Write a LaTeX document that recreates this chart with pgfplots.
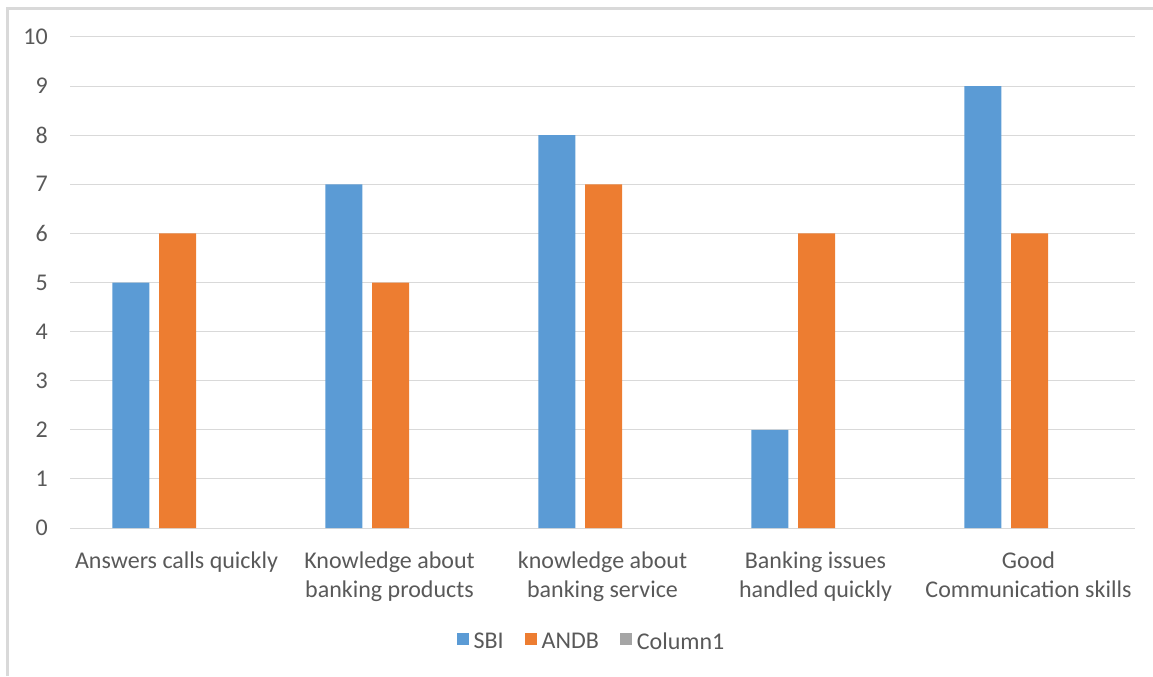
\documentclass[border=0pt]{standalone}
\usepackage{fontspec}
\setmainfont{Carlito}
\usepackage{pgfplots}
\pgfplotsset{compat=1.18}
\definecolor{sbi}{HTML}{5B9BD5}
\definecolor{andb}{HTML}{ED7D31}
\definecolor{col1}{HTML}{A5A5A5}
\definecolor{txt}{HTML}{595959}
\definecolor{gridc}{HTML}{D9D9D9}
\pgfplotsset{sqleg/.style={legend image code/.code={\fill[##1] (0pt,-2.25pt) rectangle (9pt,6.75pt);}}}
\begin{document}
\begin{tikzpicture}
\useasboundingbox (0,0) rectangle (864.75pt,507pt);
\begin{axis}[
  at={(52.5pt,111pt)}, anchor=south west,
  scale only axis, width=798.75pt, height=368.25pt,
  xmin=-0.5, xmax=4.5, ymin=0, ymax=10,
  ytick={0,1,...,10}, xtick={0,1,2,3,4},
  xticklabels={{Answers calls quickly},{Knowledge about\\banking products},{knowledge about\\banking service},{Banking issues\\handled quickly},{Good\\Communication skills}},
  axis line style={draw=none},
  ymajorgrids, grid style={draw=gridc, line width=0.75pt},
  major tick length=0pt,
  tick label style={font=\fontsize{18}{22}\selectfont, text=txt},
  yticklabel style={anchor=east, inner sep=0pt, xshift=-16.5pt},
  xticklabel style={anchor=north, inner sep=0pt, yshift=-17.75pt, align=center},
  /pgf/number format/assume math mode=true,
  ybar, bar width=27.75pt,
  legend style={at={(0.4887,-0.2322)}, anchor=center, draw=none, fill=none,
    legend columns=-1, font=\fontsize{18}{22}\selectfont, text=txt,
    nodes={inner sep=0pt},
    /tikz/every odd column/.append style={column sep=3.75pt},
    /tikz/every even column/.append style={column sep=15.75pt}},
]
\addplot[fill=sbi, draw=none, bar shift=-34.15pt, sqleg]
  coordinates {(0,5) (1,7) (2,8) (3,2) (4,9)};
\addlegendentry{SBI}
\addplot[fill=andb, draw=none, bar shift=0.75pt, sqleg]
  coordinates {(0,6) (1,5) (2,7) (3,6) (4,6)};
\addlegendentry{ANDB}
\addlegendimage{fill=col1, draw=none, sqleg}
\addlegendentry{Column1}
\end{axis}
\draw[gridc, line width=1.9pt] (5.6pt,0pt) -- (5.6pt,500.6pt) -- (864.75pt,500.6pt);
\end{tikzpicture}
\end{document}
